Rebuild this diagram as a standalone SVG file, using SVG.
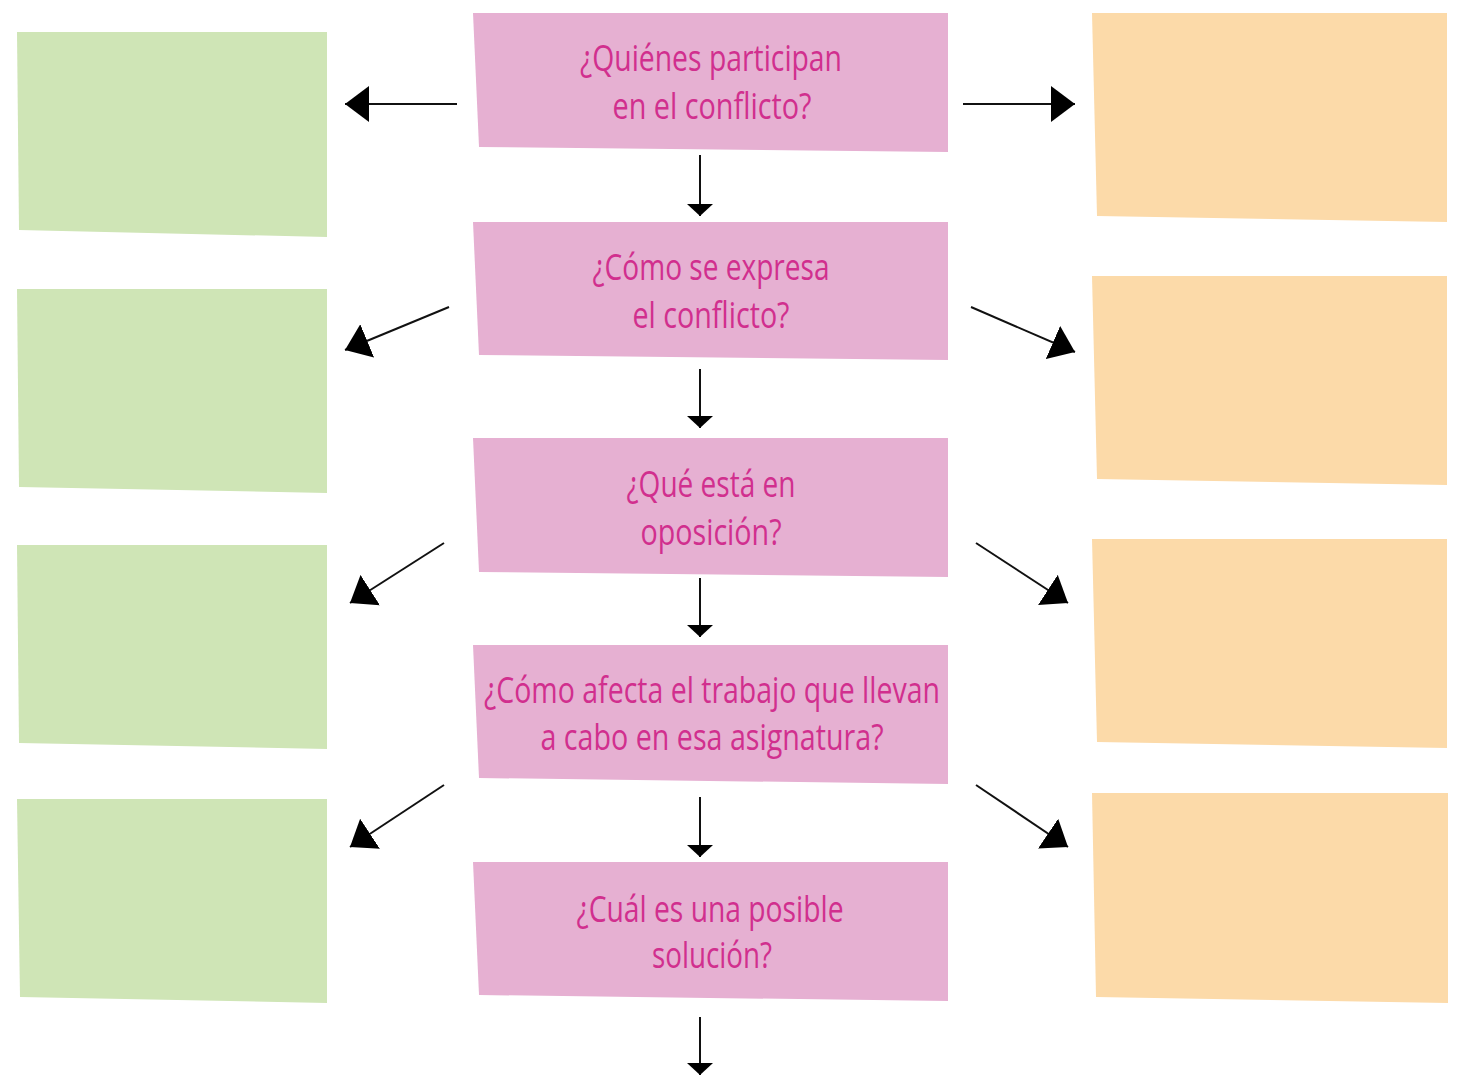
<svg xmlns="http://www.w3.org/2000/svg" width="1458" height="1077" viewBox="0 0 1458 1077">
<style>
.g{fill:#cfe5b6}
.o{fill:#fcdaa9}
.p{fill:#e6b0d2}
.t{font-family:"Open Sans","Liberation Sans",sans-serif;font-size:36px;font-weight:500;fill:#d12f8e;text-anchor:middle}
.c{stroke:#111;stroke-width:2;fill:none}
.big{marker-end:url(#mb)}
.sm{marker-end:url(#ms)}
</style>
<defs>
<marker id="mb" viewBox="0 0 24 36" refX="24" refY="18" markerWidth="24" markerHeight="36" markerUnits="userSpaceOnUse" orient="auto"><path d="M0,0 L24,18 L0,36 Z" fill="#000"/></marker>
<marker id="ms" viewBox="0 0 12 26" refX="12" refY="13" markerWidth="12" markerHeight="26" markerUnits="userSpaceOnUse" orient="auto"><path d="M0,0 L12,13 L0,26 Z" fill="#000"/></marker>
</defs>
<rect width="1458" height="1077" fill="#fff"/>
<g id="green1"><polygon class="g" points="17,32 327,32 327,237 19,230"/></g>
<g id="green2"><polygon class="g" points="17,289 327,289 327,493 19,487"/></g>
<g id="green3"><polygon class="g" points="17,545 327,545 327,749 19,743"/></g>
<g id="green4"><polygon class="g" points="17,799 327,799 327,1003 20,997"/></g>
<g id="orange1"><polygon class="o" points="1092,13 1447,13 1447,222 1097,216"/></g>
<g id="orange2"><polygon class="o" points="1092,276 1447,276 1447,485 1097,479"/></g>
<g id="orange3"><polygon class="o" points="1092,539 1447,539 1447,748 1097,742"/></g>
<g id="orange4"><polygon class="o" points="1092,793 1448,793 1448,1003 1096,997"/></g>
<g id="q1"><polygon class="p" points="473,13 948,13 948,152 479,147"/>
<text class="t" x="711" y="71" textLength="262" lengthAdjust="spacingAndGlyphs">¿Quiénes participan</text>
<text class="t" x="712" y="119" textLength="199" lengthAdjust="spacingAndGlyphs">en el conflicto?</text></g>
<g id="q2"><polygon class="p" points="473,222 948,222 948,360 479,355"/>
<text class="t" x="711" y="280" textLength="237" lengthAdjust="spacingAndGlyphs">¿Cómo se expresa</text>
<text class="t" x="711" y="328" textLength="157" lengthAdjust="spacingAndGlyphs">el conflicto?</text></g>
<g id="q3"><polygon class="p" points="473,438 948,438 948,577 479,572"/>
<text class="t" x="711" y="497" textLength="169" lengthAdjust="spacingAndGlyphs">¿Qué está en</text>
<text class="t" x="711" y="545" textLength="141" lengthAdjust="spacingAndGlyphs">oposición?</text></g>
<g id="q4"><polygon class="p" points="473,645 948,645 948,784 479,778"/>
<text class="t" x="712" y="703" textLength="456" lengthAdjust="spacingAndGlyphs">¿Cómo afecta el trabajo que llevan</text>
<text class="t" x="712" y="750" textLength="343" lengthAdjust="spacingAndGlyphs">a cabo en esa asignatura?</text></g>
<g id="q5"><polygon class="p" points="473,862 948,862 948,1001 479,995"/>
<text class="t" x="710" y="922" textLength="267" lengthAdjust="spacingAndGlyphs">¿Cuál es una posible</text>
<text class="t" x="712" y="968" textLength="120" lengthAdjust="spacingAndGlyphs">solución?</text></g>
<g id="connectors">
<line class="c big" x1="457" y1="104" x2="345" y2="104"/>
<line class="c big" x1="963" y1="104" x2="1075" y2="104"/>
<line class="c big" x1="449" y1="307" x2="345" y2="350"/>
<line class="c big" x1="971" y1="307" x2="1075" y2="352"/>
<line class="c big" x1="444" y1="543" x2="350" y2="603"/>
<line class="c big" x1="976" y1="543" x2="1068" y2="603"/>
<line class="c big" x1="444" y1="785" x2="350" y2="847"/>
<line class="c big" x1="976" y1="785" x2="1068" y2="847"/>
<line class="c sm" x1="700" y1="155" x2="700" y2="216"/>
<line class="c sm" x1="700" y1="369" x2="700" y2="428"/>
<line class="c sm" x1="700" y1="578" x2="700" y2="637"/>
<line class="c sm" x1="700" y1="797" x2="700" y2="857"/>
<line class="c sm" x1="700" y1="1017" x2="700" y2="1075"/>
</g>
</svg>
